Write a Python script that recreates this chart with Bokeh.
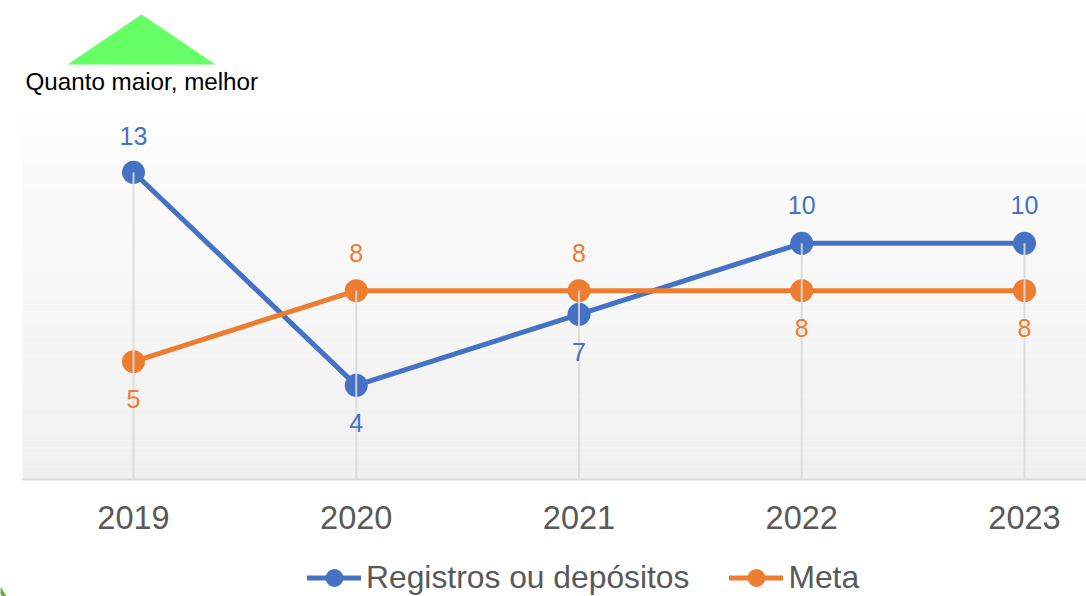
from bokeh.plotting import figure
from bokeh.embed import file_html
from bokeh.resources import INLINE
from bokeh.core.properties import value
from bokeh.models import Legend, LegendItem, FixedTicker, Range1d
import numpy as np

years = [2019, 2020, 2021, 2022, 2023]
registros = [13, 4, 7, 10, 10]
meta = [5, 8, 8, 8, 8]
BLUE = "#4472c4"
ORANGE = "#ed7d31"
note = "Quanto maior, melhor"

# page pixel -> data helpers
PX_X = 222.75
PX_Y = 23.67
def dx(px): return 2019 + (px - 133) / PX_X
def dy(py): return (479.5 - py) / PX_Y

p = figure(width=1086, height=596, output_backend="svg", toolbar_location=None,
           x_range=Range1d(dx(0), dx(1086)), y_range=Range1d(dy(596), dy(0)),
           min_border_left=0, min_border_right=0, min_border_top=0, min_border_bottom=0,
           outline_line_color=None, border_fill_color="white", background_fill_color="white")
p.grid.visible = False
p.yaxis.visible = False
ax = p.xaxis[0]
ax.fixed_location = 0
ax.ticker = FixedTicker(ticks=years)
ax.axis_line_color = None
ax.major_tick_line_color = None
ax.minor_tick_line_color = None
ax.major_label_text_font = "Liberation Sans"
ax.major_label_text_font_size = "32.5px"
ax.major_label_text_color = "#595959"
ax.major_label_standoff = 20

# plot-area gradient
edges = np.linspace(65, 479, 65)
shades = np.linspace(255, 240, 64).round().astype(int)
p.quad(left=dx(22), right=dx(1086), top=[dy(e) for e in edges[:-1]], bottom=[dy(e) for e in edges[1:]],
       fill_color=[f"#{s:02x}{s:02x}{s:02x}" for s in shades], line_color=None)

# axis baseline
p.segment(x0=[dx(22)], x1=[dx(1086)], y0=[dy(479)], y1=[dy(479)], line_color="#d9d9d9", line_width=2)

# corner remnant of the card border
p.line([dx(-1), dx(5)], [dy(588), dy(598)], line_color="#70ad47", line_width=4)

# series
l1 = p.line(years, registros, line_color=BLUE, line_width=5, line_cap="round")
c1 = p.scatter(years, registros, marker="circle", size=23, fill_color=BLUE, line_color=None)
l2 = p.line(years, meta, line_color=ORANGE, line_width=5, line_cap="round")
c2 = p.scatter(years, meta, marker="circle", size=23, fill_color=ORANGE, line_color=None)

# drop lines
top = [max(a, b) for a, b in zip(registros, meta)]
p.segment(x0=years, x1=years, y0=[0]*5, y1=top, line_color="#d9d9d9", line_width=2, line_alpha=0.9)

# data labels
blue_above = [a > b for a, b in zip(registros, meta)]
for y, r, m, up in zip(years, registros, meta, blue_above):
    p.text([y], [r], text=[str(r)], text_color=BLUE, text_font=value("Liberation Sans"), text_font_size="25px",
           text_align="center", text_baseline="middle", y_offset=(-36 if r == 13 else -38) if up else 38)
    p.text([y], [m], text=[str(m)], text_color=ORANGE, text_font=value("Liberation Sans"), text_font_size="25px",
           text_align="center", text_baseline="middle", y_offset=37 if up else -38)

# indicator
p.patch([dx(67), dx(141), dx(215)], [dy(64), dy(14), dy(64)], fill_color="#66ff66", line_color=None)
p.text([dx(25)], [dy(81)], text=[note], text_color="black", text_font=value("Liberation Sans"),
       text_font_size="24.2px", text_align="left", text_baseline="middle")

legend = Legend(items=[LegendItem(label="Registros ou depósitos", renderers=[l1, c1]),
                       LegendItem(label="Meta", renderers=[l2, c2])],
                orientation="horizontal", location=(307, -4), background_fill_alpha=0, border_line_color=None,
                label_text_font="Liberation Sans", label_text_font_size="31.8px", label_text_color="#595959",
                glyph_width=54, glyph_height=45, label_standoff=5, spacing=40, padding=0, margin=0)
p.add_layout(legend, "center")

open("out.html", "w").write(file_html(p, INLINE))
